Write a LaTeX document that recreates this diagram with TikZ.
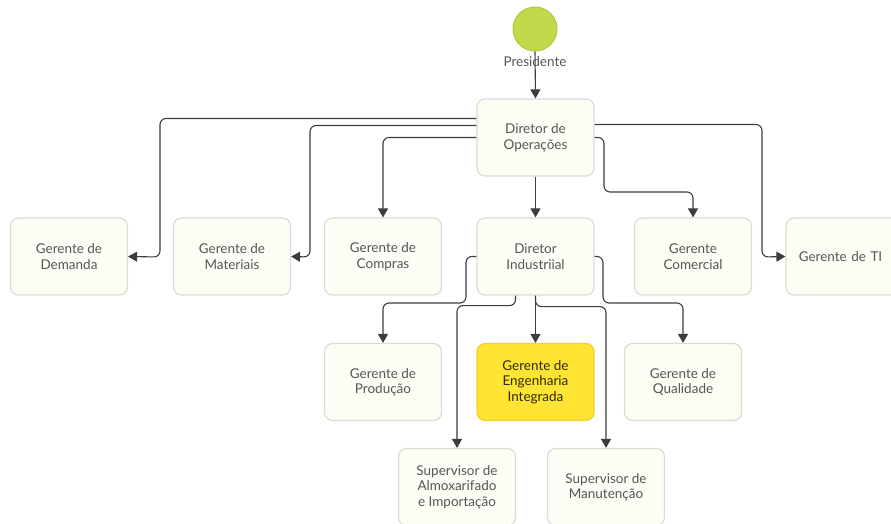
\documentclass[tikz,border=0pt]{standalone}
\usepackage{fontspec}
\setmainfont{Lato}
\usetikzlibrary{arrows.meta}

\definecolor{boxfill}{HTML}{FDFDF6}
\definecolor{boxline}{HTML}{DCDCD2}
\definecolor{txtgray}{HTML}{555555}
\definecolor{linegray}{HTML}{3C3C3C}
\definecolor{presgreen}{HTML}{C3D84B}
\definecolor{presline}{HTML}{B2C83E}
\definecolor{hlyellow}{HTML}{FFE433}
\definecolor{hlline}{HTML}{EDD232}

\tikzset{
  box/.style={draw=boxline, line width=1.2pt, fill=boxfill, rounded corners=8pt,
    minimum width=117pt, minimum height=77pt, align=center, text=txtgray,
    font=\fontsize{13.5}{15.5}\selectfont, inner sep=2pt},
  hlbox/.style={box, draw=hlline, fill=hlyellow, text=black!70!hlyellow!60!black},
  conn/.style={draw=linegray, line width=1.1pt, rounded corners=6pt,
    -{Triangle[length=9pt,width=10pt]}},
}

\begin{document}
\begin{tikzpicture}[x=1pt, y=-1pt]
  \useasboundingbox (0,0) rectangle (891,524);

  % Presidente
  \node[circle, draw=presline, line width=1pt, fill=presgreen, minimum size=44pt] (pres) at (535,29) {};

  % Caixas
  \node[box] (dirop) at (535.5,137.5) {Diretor de\\Operações};
  \node[box] (dem) at (69,256.5) {Gerente de\\Demanda};
  \node[box] (mat) at (232,256.5) {Gerente de\\Materiais};
  \node[box] (comp) at (383,256.5) {Gerente de\\Compras};
  \node[box] (dirind) at (535.5,256.5) {Diretor\\Industriial};
  \node[box] (com) at (693,256.5) {Gerente\\Comercial};
  \node[box, text width=110pt] (ti) at (844.5,256.5) {\hspace*{-8pt}Gerente de TI};
  \node[box] (prod) at (383,382) {Gerente de\\Produção};
  \node[hlbox] (eng) at (535.5,382) {Gerente de\\Engenharia\\Integrada};
  \node[box] (qual) at (683,382) {Gerente de\\Qualidade};
  \node[box] (almox) at (457,487) {Supervisor de\\Almoxarifado\\e Importação};
  \node[box] (manut) at (606,487) {Supervisor de\\Manutenção};

  % Ligações
  \draw[conn] (pres.south) -- (dirop.north);
  \node[text=txtgray, font=\fontsize{13.5}{15}\selectfont] (preslbl) at (535,62) {Presidente};

  \draw[conn] ([yshift=19pt]dirop.west) -| (160,257) -- (dem.east);
  \draw[conn] ([yshift=12pt]dirop.west) -| (310,257) -- (mat.east);
  \draw[conn] (dirop.west) -| (comp.north);
  \draw[conn] (dirop.south) -- (dirind.north);
  \draw[conn] (dirop.east) -| (604,192) -| (com.north);
  \draw[conn] ([yshift=13pt]dirop.east) -| (762,257) -- (ti.west);

  \draw[conn] (dirind.west) -| (466,303) -| (prod.north);
  \draw[conn] ([xshift=-20pt]dirind.south) -- ++(0,10) -| (almox.north);
  \draw[conn] (dirind.south) -- (eng.north);
  \draw[conn] (dirind.south) -- ++(0,11) -| (manut.north);
  \draw[conn] (dirind.east) -| (603,303) -| (qual.north);
\end{tikzpicture}
\end{document}
